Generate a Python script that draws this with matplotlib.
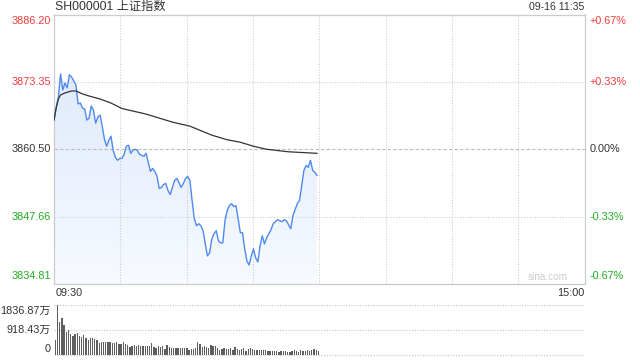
import numpy as np
import matplotlib
matplotlib.use("Agg")
import matplotlib.pyplot as plt
from matplotlib.colors import LinearSegmentedColormap
import matplotlib.transforms as mtransforms

plt.rcParams['font.family'] = ['Liberation Sans', 'Noto Sans CJK SC', 'DejaVu Sans']

# ---------------- data ----------------
title = "SH000001 上证指数"
stamp = "09-16 11:35"
prev_close = 3860.50
price_levels = [3834.81, 3847.66, 3860.50, 3873.35, 3886.20]
price_labels = ["3834.81", "3847.66", "3860.50", "3873.35", "3886.20"]
pct_labels = ["-0.67%", "-0.33%", "0.00%", "+0.33%", "+0.67%"]
level_colors = ["#1fae1f", "#1fae1f", "#333333", "#f03c3c", "#f03c3c"]
time_labels = ["09:30", "15:00"]
vol_levels = [0, 918.43, 1836.87]
vol_labels = ["0", "918.43万", "1836.87万"]
n_slots = 242  # full trading day slots

price = [
    3866.06, 3868.56, 3870.47, 3874.88, 3871.82, 3873.16, 3872.20, 3874.69, 3874.31, 3873.54,
    3872.77, 3869.13, 3869.32, 3868.36, 3868.17, 3866.06, 3866.45, 3868.75, 3867.98, 3865.49,
    3866.64, 3867.02, 3864.91, 3862.42, 3861.08, 3862.23, 3862.99, 3860.31, 3858.97, 3858.39,
    3858.77, 3858.77, 3859.54, 3861.08, 3861.27, 3859.73, 3860.31, 3860.50, 3860.31, 3859.54,
    3859.35, 3859.16, 3859.73, 3858.01, 3856.28, 3856.86, 3856.28, 3855.32, 3853.02, 3853.21,
    3853.79, 3853.98, 3852.64, 3851.87, 3853.21, 3854.55, 3854.94, 3854.17, 3853.21, 3853.98,
    3854.94, 3855.32, 3854.55, 3850.72, 3847.27, 3845.92, 3846.31, 3845.92, 3844.97, 3842.47,
    3840.17, 3840.75, 3843.43, 3844.39, 3844.97, 3843.05, 3842.66, 3842.66, 3846.88, 3848.80,
    3849.76, 3850.14, 3849.57, 3849.76, 3847.27, 3844.58, 3844.58, 3841.51, 3839.21, 3838.44,
    3840.17, 3841.51, 3839.79, 3839.02, 3842.09, 3844.01, 3842.47, 3843.62, 3844.39, 3845.16,
    3846.31, 3846.69, 3847.07, 3846.88, 3846.69, 3847.07, 3846.88, 3846.12, 3845.35, 3847.84,
    3848.99, 3850.14, 3850.72, 3853.60, 3856.47, 3857.43, 3857.05, 3858.39, 3856.47, 3856.09,
    3855.51,
]

avg_minutes = [0, 1, 2, 3, 5, 8, 10, 13, 16, 21, 26, 31, 42, 54, 62, 72, 79, 85, 91, 97, 107, 120]
avg_price = [3866.06, 3868.36, 3870.09, 3870.86, 3871.24, 3871.62, 3871.62, 3871.05, 3870.66,
             3870.09, 3869.32, 3868.27, 3867.21, 3865.68, 3864.91, 3863.19, 3862.32, 3861.84,
             3861.08, 3860.50, 3860.02, 3859.73]

volume = [
    551, 1836, 1200, 1347, 1101, 833, 893, 760, 686, 760,
    797, 686, 649, 723, 612, 539, 612, 612, 576, 539,
    441, 478, 478, 478, 478, 478, 441, 441, 478, 404,
    404, 478, 404, 367, 294, 330, 367, 330, 367, 330,
    330, 330, 330, 330, 441, 294, 257, 330, 294, 330,
    220, 367, 294, 257, 257, 257, 257, 257, 257,
    245, 245, 184, 220, 220, 245, 466, 392, 282, 318,
    282, 245, 355, 318, 318, 245, 184, 220, 245, 220,
    220, 245, 184, 282, 220, 184, 220, 245, 147, 220,
    245, 220, 184, 184, 184, 184, 184, 184, 147, 147,
    147, 147, 147, 110, 147, 147, 147, 110, 110, 147,
    184, 147, 110, 184, 147, 147, 184, 147, 184, 220,
    184, 147,
]

# ---------------- figure ----------------
W, H = 640, 360
fig = plt.figure(figsize=(W / 100, H / 100), dpi=100)
fig.patch.set_facecolor("white")

def box(l, t, r, b):
    return [l / W, 1 - b / H, (r - l) / W, (b - t) / H]

ax = fig.add_axes(box(54, 14.5, 584.5, 284))
axv = fig.add_axes(box(54, 304.7, 584.5, 354.5))

lo, hi = price_levels[0], price_levels[-1]
x = np.arange(len(price))

# gradient fill under price line
coll = ax.fill_between(x, price, lo, color="none", lw=0)
cmap = LinearSegmentedColormap.from_list("g", ["#f7faff", "#d9e6fa"])
grad = np.linspace(0, 1, 256).reshape(-1, 1)
img = ax.imshow(grad, extent=[0, n_slots, lo, hi], aspect="auto", origin="lower",
                cmap=cmap, zorder=1, interpolation="bicubic")
img.set_clip_path(coll.get_paths()[0], transform=ax.transData)

ax.plot(x, price, color="#4f8af0", lw=1.0, zorder=4)
ax.plot(avg_minutes, avg_price, color="#333333", lw=0.9, zorder=5)

ax.set_xlim(0, n_slots)
ax.set_ylim(lo, hi)

# grid
for lv in price_levels[1:-1]:
    if lv == prev_close:
        ax.axhline(lv, color="#bbbbbb", lw=0.8, dashes=(3, 2), zorder=2)
    else:
        ax.axhline(lv, color="#cccccc", lw=0.8, ls=(0, (1, 1.5)), zorder=2)
for k in range(1, 8):
    ax.axvline(n_slots * k / 8, color="#cccccc", lw=0.8, ls=(0, (1, 1.5)), zorder=2)

for s in ax.spines.values():
    s.set_color("#cccccc")
    s.set_linewidth(0.9)
ax.set_xticks([])
ax.set_yticks([])

fs = 7.8
# left / right labels
yt = mtransforms.blended_transform_factory(ax.transAxes, ax.transData)
for i, (lv, lab, pl, c) in enumerate(zip(price_levels, price_labels, pct_labels, level_colors)):
    va = "center"
    if i == 0:
        va = "bottom"
    elif i == len(price_levels) - 1:
        va = "top"
    offy = 3 if i == 0 else (-1.5 if i == len(price_levels) - 1 else 0)
    tl = mtransforms.offset_copy(yt, fig=fig, x=-3, y=offy, units="dots")
    tr = mtransforms.offset_copy(yt, fig=fig, x=5, y=offy, units="dots")
    ax.text(0, lv, lab, transform=tl, ha="right", va=va, color=c, fontsize=fs)
    ax.text(1, lv, pl, transform=tr, ha="left", va=va, color=c, fontsize=fs)

ax.text(0.0, 1.0, title, transform=mtransforms.offset_copy(ax.transAxes, fig=fig, x=1, y=1.5, units="dots"),
        ha="left", va="bottom", color="#333333", fontsize=8.8)
ax.text(1.0, 1.0, stamp, transform=mtransforms.offset_copy(ax.transAxes, fig=fig, x=0, y=2, units="dots"),
        ha="right", va="bottom", color="#333333", fontsize=7.6)
ax.text(0.0, 0.0, time_labels[0], transform=mtransforms.offset_copy(ax.transAxes, fig=fig, x=2, y=-4, units="dots"),
        ha="left", va="top", color="#333333", fontsize=fs)
ax.text(1.0, 0.0, time_labels[1], transform=mtransforms.offset_copy(ax.transAxes, fig=fig, x=0, y=-4, units="dots"),
        ha="right", va="top", color="#333333", fontsize=fs)
ax.text(0.93, 0.0, "sina.com", transform=mtransforms.offset_copy(ax.transAxes, fig=fig, x=0, y=2, units="dots"),
        ha="center", va="bottom", color="#cccccc", fontsize=7.2, zorder=6)

# volume
vx = np.arange(len(volume)) + 0.6
axv.bar(vx, volume, width=0.6, color="#5e5e5e", lw=0)
axv.set_xlim(0, n_slots)
axv.set_ylim(vol_levels[0], vol_levels[-1])
for lv in vol_levels:
    axv.axhline(lv, color="#cccccc", lw=0.9, ls=(0, (1, 1.2)), zorder=0, clip_on=False)
for s in axv.spines.values():
    s.set_visible(False)
axv.set_xticks([])
axv.set_yticks([])
vt = mtransforms.blended_transform_factory(axv.transAxes, axv.transData)
for i, (lv, lab) in enumerate(zip(vol_levels, vol_labels)):
    va = "center"
    offy = 0
    if i == 0:
        va = "bottom"; offy = 0
    elif i == len(vol_levels) - 1:
        va = "top"; offy = -1
    axv.text(0, lv, lab, transform=mtransforms.offset_copy(vt, fig=fig, x=-3, y=offy, units="dots"),
             ha="right", va=va, color="#333333", fontsize=fs)

fig.savefig("out.png", dpi=100)
